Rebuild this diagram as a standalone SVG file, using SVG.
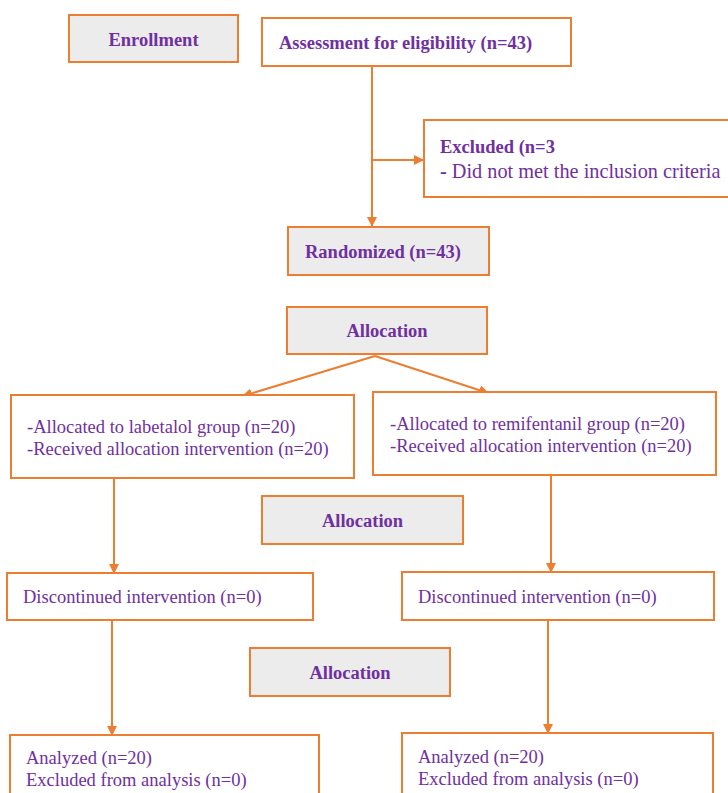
<svg xmlns="http://www.w3.org/2000/svg" width="728" height="793" viewBox="0 0 728 793">
<defs>
<marker id="ah" markerWidth="10" markerHeight="10" refX="9" refY="5" orient="auto" markerUnits="userSpaceOnUse">
<path d="M0,0 L10,5 L0,10 Z" fill="#ed7d31"/>
</marker>
<style>
.box{fill:#ffffff;stroke:#ed7d31;stroke-width:2}
.gbox{fill:#ececec;stroke:#ed7d31;stroke-width:2}
text{font-family:'Liberation Serif','Times New Roman',Times,serif;fill:#7030a0}
.t{font-size:18.5px}
.b{font-size:18.5px;font-weight:bold}
.big{font-size:20.3px}
.c{fill:none;stroke:#ed7d31;stroke-width:2}
</style>
</defs>
<rect width="728" height="793" fill="#ffffff"/>
<g id="connectors">
<line class="c" x1="372" y1="66" x2="372" y2="226" marker-end="url(#ah)"/>
<line class="c" x1="372" y1="160" x2="423" y2="160" marker-end="url(#ah)"/>
<line class="c" x1="375" y1="356" x2="243" y2="396" marker-end="url(#ah)"/>
<line class="c" x1="375" y1="356" x2="488" y2="393" marker-end="url(#ah)"/>
<line class="c" x1="114" y1="479" x2="114" y2="573" marker-end="url(#ah)"/>
<line class="c" x1="551" y1="476" x2="551" y2="572" marker-end="url(#ah)"/>
<line class="c" x1="112" y1="620" x2="112" y2="735" marker-end="url(#ah)"/>
<line class="c" x1="548" y1="620" x2="548" y2="733" marker-end="url(#ah)"/>
</g>
<g id="enrollment">
<rect class="gbox" x="69" y="15" width="169" height="47"/>
<text class="b" x="153.5" y="46" text-anchor="middle">Enrollment</text>
</g>
<g id="assessment">
<rect class="box" x="262" y="18" width="309" height="48"/>
<text class="b" x="279" y="49">Assessment for eligibility (n=43)</text>
</g>
<g id="excluded">
<rect class="box" x="424" y="120" width="310" height="77"/>
<text class="b" x="440" y="153">Excluded (n=3</text>
<text class="big" x="440" y="178"><tspan font-weight="bold">-</tspan> Did not met the inclusion criteria</text>
</g>
<g id="randomized">
<rect class="gbox" x="288" y="227" width="201" height="48"/>
<text class="b" x="383" y="258" text-anchor="middle">Randomized (n=43)</text>
</g>
<g id="allocation1">
<rect class="gbox" x="287" y="307" width="200" height="47"/>
<text class="b" x="387" y="337" text-anchor="middle">Allocation</text>
</g>
<g id="labetalol">
<rect class="box" x="11" y="395" width="343" height="83"/>
<text class="t" x="27" y="433">-Allocated to labetalol group (n=20)</text>
<text class="t" x="27" y="455">-Received allocation intervention (n=20)</text>
</g>
<g id="remifentanil">
<rect class="box" x="373" y="392" width="343" height="83"/>
<text class="t" x="390" y="430">-Allocated to remifentanil group (n=20)</text>
<text class="t" x="390" y="452">-Received allocation intervention (n=20)</text>
</g>
<g id="allocation2">
<rect class="gbox" x="262" y="496" width="201" height="48"/>
<text class="b" x="362.5" y="527" text-anchor="middle">Allocation</text>
</g>
<g id="discontinued-left">
<rect class="box" x="7" y="573" width="306" height="47"/>
<text class="t" x="23" y="603">Discontinued intervention (n=0)</text>
</g>
<g id="discontinued-right">
<rect class="box" x="402" y="572" width="312" height="48"/>
<text class="t" x="418" y="603">Discontinued intervention (n=0)</text>
</g>
<g id="allocation3">
<rect class="gbox" x="250" y="648" width="200" height="48"/>
<text class="b" x="350" y="679" text-anchor="middle">Allocation</text>
</g>
<g id="analyzed-left">
<rect class="box" x="10" y="735" width="309" height="70"/>
<text class="t" x="26" y="764">Analyzed (n=20)</text>
<text class="t" x="26" y="786">Excluded from analysis (n=0)</text>
</g>
<g id="analyzed-right">
<rect class="box" x="402" y="733" width="311" height="70"/>
<text class="t" x="418" y="763">Analyzed (n=20)</text>
<text class="t" x="418" y="785">Excluded from analysis (n=0)</text>
</g>
</svg>
